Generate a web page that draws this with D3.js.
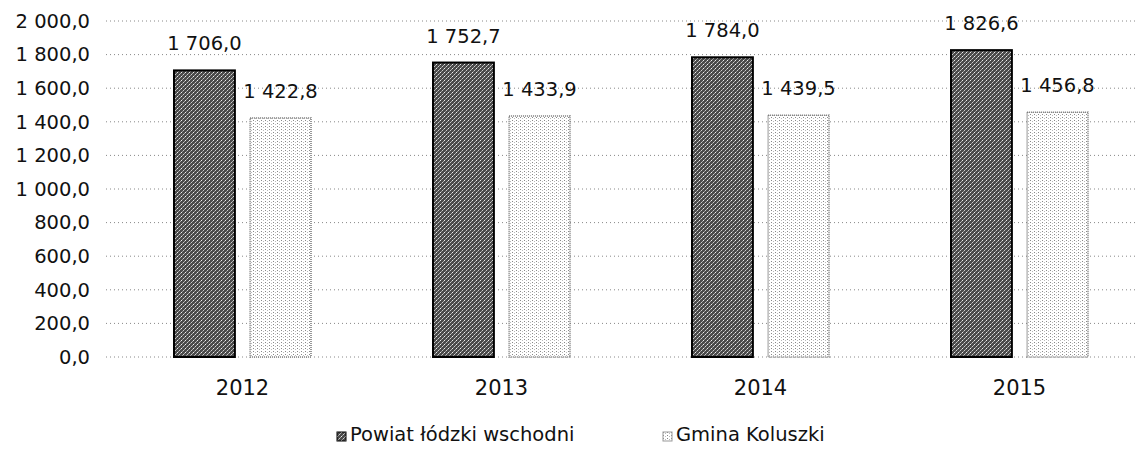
<!DOCTYPE html>
<html>
<head>
<meta charset="utf-8">
<script src="https://cdn.jsdelivr.net/npm/d3@7"></script>
<style>
  body { margin: 0; background: #fff; }
  text { font-family: "DejaVu Sans", sans-serif; fill: #111; }
</style>
</head>
<body>
<script>
var years = ["2012", "2013", "2014", "2015"];
var seriesNames = ["Powiat łódzki wschodni", "Gmina Koluszki"];
var powiat = [1706.0, 1752.7, 1784.0, 1826.6];
var gmina = [1422.8, 1433.9, 1439.5, 1456.8];
var yTicks = [0, 200, 400, 600, 800, 1000, 1200, 1400, 1600, 1800, 2000];

var width = 1136, height = 449;

var fmt = function(v) {
  // polish style: space as thousands separator, comma decimal
  var s = v.toFixed(1).split(".");
  var intPart = s[0].replace(/\B(?=(\d{3})+(?!\d))/g, " ");
  return intPart + "," + s[1];
};

var svg = d3.select("body").append("svg")
  .attr("width", width)
  .attr("height", height);

// textures for the two series
var defs = svg.append("defs");
var pDark = defs.append("pattern")
  .attr("id", "dark")
  .attr("width", 4).attr("height", 4)
  .attr("patternUnits", "userSpaceOnUse");
pDark.append("rect").attr("width", 4).attr("height", 4).attr("fill", "#4a4a4a");
pDark.append("rect").attr("x", 0).attr("y", 0).attr("width", 1).attr("height", 1).attr("fill", "#eee");
pDark.append("rect").attr("x", 2).attr("y", 2).attr("width", 1).attr("height", 1).attr("fill", "#ccc");
pDark.append("rect").attr("x", 3).attr("y", 1).attr("width", 1).attr("height", 1).attr("fill", "#aaa");
pDark.append("rect").attr("x", 1).attr("y", 3).attr("width", 1).attr("height", 1).attr("fill", "#999");

var pLight = defs.append("pattern")
  .attr("id", "light")
  .attr("width", 4).attr("height", 3)
  .attr("patternUnits", "userSpaceOnUse");
pLight.append("rect").attr("width", 4).attr("height", 3).attr("fill", "#fff");
pLight.append("rect").attr("x", 0).attr("y", 0).attr("width", 1).attr("height", 1).attr("fill", "#888");
pLight.append("rect").attr("x", 2).attr("y", 1).attr("width", 1).attr("height", 1).attr("fill", "#bbb");

var x = d3.scaleBand()
  .domain(years)
  .range([113, 1149])
  .padding(0);

var inner = d3.scaleBand()
  .domain([0, 1])
  .range([61, 198])
  .paddingInner(0.2);

var y = d3.scaleLinear()
  .domain([0, 2000])
  .range([357, 21]);

// gridlines
svg.append("g").selectAll("line")
  .data(yTicks)
  .enter()
    .append("line")
      .attr("x1", 106)
      .attr("x2", width)
      .attr("y1", function(d) { return y(d); })
      .attr("y2", function(d) { return y(d); })
      .attr("stroke", "#888")
      .attr("stroke-width", 1)
      .attr("stroke-dasharray", "1,3");

// y axis labels
var yAxis = svg.append("g")
  .attr("transform", "translate(98,0)")
  .call(d3.axisLeft(y).tickValues(yTicks).tickSize(0).tickPadding(8).tickFormat(fmt));
yAxis.select(".domain").remove();
yAxis.selectAll("text")
  .style("font-size", "19.5px")
  .attr("fill", "#111");

// bars
var data = years.map(function(yr, i) {
  return { year: yr, values: [powiat[i], gmina[i]] };
});

var groups = svg.append("g").selectAll("g")
  .data(data)
  .enter()
    .append("g")
      .attr("transform", function(d) { return "translate(" + x(d.year) + ",0)"; });

groups.selectAll("rect")
  .data(function(d) { return d.values.map(function(v, k) { return { k: k, v: v }; }); })
  .enter()
    .append("rect")
      .attr("x", function(d) { return inner(d.k); })
      .attr("width", inner.bandwidth())
      .attr("y", function(d) { return y(d.v); })
      .attr("height", function(d) { return y(0) - y(d.v); })
      .attr("fill", function(d) { return d.k === 0 ? "url(#dark)" : "url(#light)"; })
      .attr("stroke", function(d) { return d.k === 0 ? "#000" : "#777"; })
      .attr("stroke-width", function(d) { return d.k === 0 ? 2 : 1.5; })
      .attr("stroke-dasharray", function(d) { return d.k === 0 ? null : "1,1"; });

groups.selectAll("text.val")
  .data(function(d) { return d.values.map(function(v, k) { return { k: k, v: v }; }); })
  .enter()
    .append("text")
      .attr("class", "val")
      .attr("x", function(d) { return inner(d.k) + inner.bandwidth() / 2; })
      .attr("y", function(d) { return y(d.v) - 20; })
      .attr("text-anchor", "middle")
      .style("font-size", "19.5px")
      .text(function(d) { return fmt(d.v); });

// x axis labels
var xAxis = svg.append("g")
  .attr("transform", "translate(0," + y(0) + ")")
  .call(d3.axisBottom(x).tickSize(0).tickPadding(23));
xAxis.select(".domain").remove();
xAxis.selectAll("text")
  .style("font-size", "21px")
  .attr("fill", "#111");

// legend
var legendX = [337, 663];
var legend = svg.append("g").selectAll("g")
  .data(seriesNames)
  .enter()
    .append("g")
      .attr("transform", function(d, i) { return "translate(" + legendX[i] + ",432)"; });

legend.append("rect")
  .attr("width", 9)
  .attr("height", 9)
  .attr("fill", function(d, i) { return i === 0 ? "url(#dark)" : "url(#light)"; })
  .attr("stroke", function(d, i) { return i === 0 ? "#000" : "#999"; })
  .attr("stroke-width", 1);

legend.append("text")
  .attr("x", 13)
  .attr("y", 9)
  .style("font-size", "19.5px")
  .text(function(d) { return d; });
</script>
</body>
</html>
